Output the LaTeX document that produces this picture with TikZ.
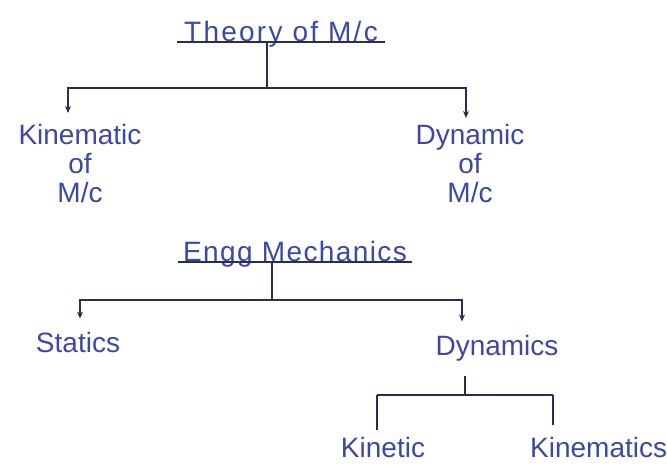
\documentclass[tikz,border=0pt]{standalone}
\usepackage{fontspec}
\setmainfont{Liberation Sans}
\usetikzlibrary{arrows.meta}
\definecolor{ink}{HTML}{3C48A6}
\definecolor{pen}{HTML}{2A2C52}
\tikzset{
  lbl/.style={text=ink, font=\fontsize{28}{28}\selectfont, inner sep=3pt},
  ttl/.style={lbl, inner xsep=0pt, inner ysep=0pt, text depth=0pt, anchor=south},
  ln/.style={draw=pen, line width=2pt},
  tip/.style={ln, -{Stealth[length=7pt,width=6pt]}}
}
\begin{document}
\begin{tikzpicture}[x=1pt,y=-1pt]
\useasboundingbox (0,0) rectangle (667,465);
% ---- Theory of M/c ----
\node[ttl, minimum width=207pt] (t1) at (281,42) {\addfontfeature{LetterSpace=8}Theory of M/c};
\draw[ln] (t1.south west) -- (t1.south east);
\coordinate (b1) at (267,88);
\node[lbl, align=center, anchor=north] (kin) at (80,121) {Kinematic\\[1pt]of\\[1pt]M/c};
\node[lbl, align=center, anchor=north] (dyn) at (470,121) {Dynamic\\[1pt]of\\[1pt]M/c};
\draw[ln] (t1.south -| b1) -- (b1);
\draw[tip] (b1) -| ([xshift=-12pt,yshift=8pt]kin.north);
\draw[tip] (b1) -| ([xshift=-4pt,yshift=3pt]dyn.north);
% ---- Engg Mechanics ----
\node[ttl, minimum width=234pt] (t2) at (295,262) {\addfontfeature{LetterSpace=5}Engg Mechanics};
\draw[ln] (t2.south west) -- (t2.south east);
\coordinate (b2) at (272,300);
\node[lbl, anchor=base] (sta) at (78,352) {Statics};
\node[lbl, anchor=base] (dys) at (497,355) {Dynamics};
\draw[ln] (t2.south -| b2) -- (b2);
\draw[tip] (b2) -| ([xshift=2pt,yshift=10pt]sta.north);
\draw[tip] (b2) -| ([xshift=-35pt,yshift=10pt]dys.north);
% ---- Dynamics branch ----
\coordinate (b3) at (465,395);
\coordinate (c1) at (377,395);
\coordinate (c2) at (553,395);
\node[lbl, anchor=base] (ktc) at (383,457) {Kinetic};
\node[lbl, anchor=base west] (kms) at (527,457) {Kinematics};
\draw[ln] ([yshift=-12pt]dys.south -| b3) -- (b3);
\draw[ln] (c1) -- (c2);
\draw[ln] (c1) -- ([yshift=4pt]c1 |- ktc.north);
\draw[ln] (c2) -- ([yshift=9pt]c2 |- kms.north);
\end{tikzpicture}
\end{document}
